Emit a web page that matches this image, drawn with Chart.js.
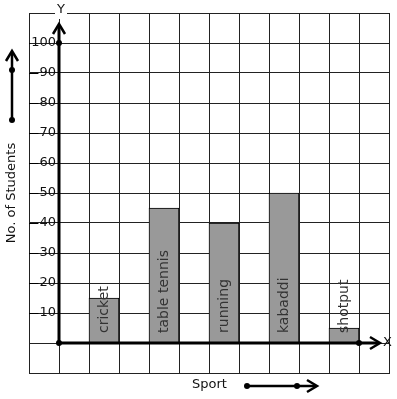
<!DOCTYPE html>
<html>
<head>
<meta charset="utf-8">
<script src="https://cdn.jsdelivr.net/npm/chart.js@4"></script>
<style>
	html, body { margin: 0; padding: 0; background: #fff; }
	canvas { display: block; }
</style>
</head>
<body>
<canvas id="myChart" width="397" height="399"></canvas>
<script>
// data
const sports = ['cricket', 'table tennis', 'running', 'kabaddi', 'shotput'];
const students = [15, 45, 40, 50, 5];
const yTicks = [10, 20, 30, 40, 50, 60, 70, 80, 90, 100];

// grid has 12 columns, bars sit in every second column starting at the 3rd
const slotCount = 12;
const labels = [];
const values = [];
for (let i = 0; i < slotCount; i++) {
	labels.push('');
	values.push(null);
}
sports.forEach((s, i) => {
	labels[2 + i * 2] = s;
	values[2 + i * 2] = students[i];
});

const font = '13px "DejaVu Sans"';
const ink = '#111';

function arrowHead(ctx, x, y, dir) {
	// open chevron pointing along dir ('up' or 'right')
	ctx.beginPath();
	if (dir === 'up') {
		ctx.moveTo(x - 6, y + 10);
		ctx.lineTo(x, y);
		ctx.lineTo(x + 6, y + 10);
	} else {
		ctx.moveTo(x - 10, y - 6);
		ctx.lineTo(x, y);
		ctx.lineTo(x - 10, y + 6);
	}
	ctx.stroke();
}

function dot(ctx, x, y) {
	ctx.beginPath();
	ctx.arc(x, y, 3, 0, Math.PI * 2);
	ctx.fill();
}

const decorations = {
	id: 'decorations',
	afterDraw(chart) {
		const ctx = chart.ctx;
		const xs = chart.scales.x;
		const ys = chart.scales.y;
		const area = chart.chartArea;
		const ox = xs.getPixelForValue(0) + xs.width / slotCount / 2;
		const oy = ys.getPixelForValue(0);
		const yTop = ys.getPixelForValue(100);
		const xEnd = xs.getPixelForValue(slotCount - 2) + xs.width / slotCount / 2;

		ctx.save();
		ctx.strokeStyle = '#000';
		ctx.fillStyle = '#000';
		ctx.lineWidth = 3;
		ctx.lineCap = 'butt';

		// y axis
		ctx.beginPath();
		ctx.moveTo(ox, oy);
		ctx.lineTo(ox, area.top + 13);
		ctx.stroke();
		ctx.lineWidth = 2.5;
		arrowHead(ctx, ox, area.top + 11, 'up');
		// x axis
		ctx.lineWidth = 3;
		ctx.beginPath();
		ctx.moveTo(ox, oy);
		ctx.lineTo(xEnd + 19, oy);
		ctx.stroke();
		ctx.lineWidth = 2.5;
		arrowHead(ctx, xEnd + 21, oy, 'right');
		dot(ctx, ox, oy);
		dot(ctx, ox, yTop);
		dot(ctx, xEnd, oy);

		// tick labels inside the first column
		ctx.font = font;
		ctx.textBaseline = 'middle';
		ctx.textAlign = 'right';
		ctx.lineWidth = 1;
		yTicks.forEach((v) => {
			const y = ys.getPixelForValue(v);
			const w = ctx.measureText(String(v)).width;
			const labelRight = ox - 3;
			ctx.fillStyle = ink;
			ctx.fillText(String(v), labelRight, y);
			ctx.beginPath();
			ctx.moveTo(area.left, Math.round(y) + 0.5);
			ctx.lineTo(labelRight - w - 1, Math.round(y) + 0.5);
			ctx.stroke();
		});

		// axis letters
		ctx.fillStyle = '#fff';
		ctx.fillRect(ox - 4, area.top - 6, 12, 12);
		ctx.fillStyle = ink;
		ctx.textAlign = 'center';
		ctx.fillText('Y', ox + 2, area.top - 3);
		ctx.textAlign = 'left';
		ctx.fillText('X', xEnd + 24, oy);

		// bar labels, reading bottom to top
		ctx.fillStyle = '#333';
		ctx.font = '14px "DejaVu Sans"';
		sports.forEach((s, i) => {
			const x = xs.getPixelForValue(2 + i * 2);
			ctx.save();
			ctx.translate(x, oy - 10);
			ctx.rotate(-Math.PI / 2);
			ctx.textAlign = 'left';
			ctx.textBaseline = 'middle';
			ctx.fillText(s, 0, 0);
			ctx.restore();
		});
		ctx.font = font;

		// y title with arrow
		ctx.fillStyle = ink;
		ctx.save();
		ctx.translate(12, 193);
		ctx.rotate(-Math.PI / 2);
		ctx.textAlign = 'center';
		ctx.textBaseline = 'middle';
		ctx.fillText('No. of Students', 0, 0);
		ctx.restore();
		ctx.fillStyle = '#000';
		ctx.lineWidth = 2.5;
		ctx.beginPath();
		ctx.moveTo(12, 120);
		ctx.lineTo(12, 52);
		ctx.stroke();
		arrowHead(ctx, 12, 51, 'up');
		dot(ctx, 12, 120);
		dot(ctx, 12, 70);

		// x title with arrow
		ctx.fillStyle = ink;
		ctx.textAlign = 'left';
		ctx.fillText('Sport', 192, 385);
		ctx.fillStyle = '#000';
		ctx.beginPath();
		ctx.moveTo(247, 386);
		ctx.lineTo(316, 386);
		ctx.stroke();
		arrowHead(ctx, 317, 386, 'right');
		dot(ctx, 247, 386);
		dot(ctx, 297, 386);
		ctx.restore();
	},
};

const chart = new Chart(document.getElementById('myChart').getContext('2d'), {
	type: 'bar',
	data: {
		labels: labels,
		datasets: [
			{
				data: values,
				backgroundColor: '#999999',
				borderColor: '#000',
				borderWidth: 1,
				barPercentage: 1,
				categoryPercentage: 1,
			},
		],
	},
	options: {
		responsive: false,
		animation: false,
		devicePixelRatio: 1,
		layout: {
			padding: { left: 29, top: 13, right: 8, bottom: 26 },
		},
		plugins: {
			legend: { display: false },
			tooltip: { enabled: false },
		},
		scales: {
			x: {
				offset: true,
				grid: { color: '#222', lineWidth: 1, drawTicks: false, offset: true },
				border: { color: '#222', width: 1 },
				ticks: { display: false },
			},
			y: {
				min: -10,
				max: 110,
				grid: { color: '#222', lineWidth: 1, drawTicks: false },
				border: { color: '#222', width: 1 },
				ticks: { display: false, stepSize: 10 },
			},
		},
	},
	plugins: [decorations],
});
</script>
</body>
</html>
